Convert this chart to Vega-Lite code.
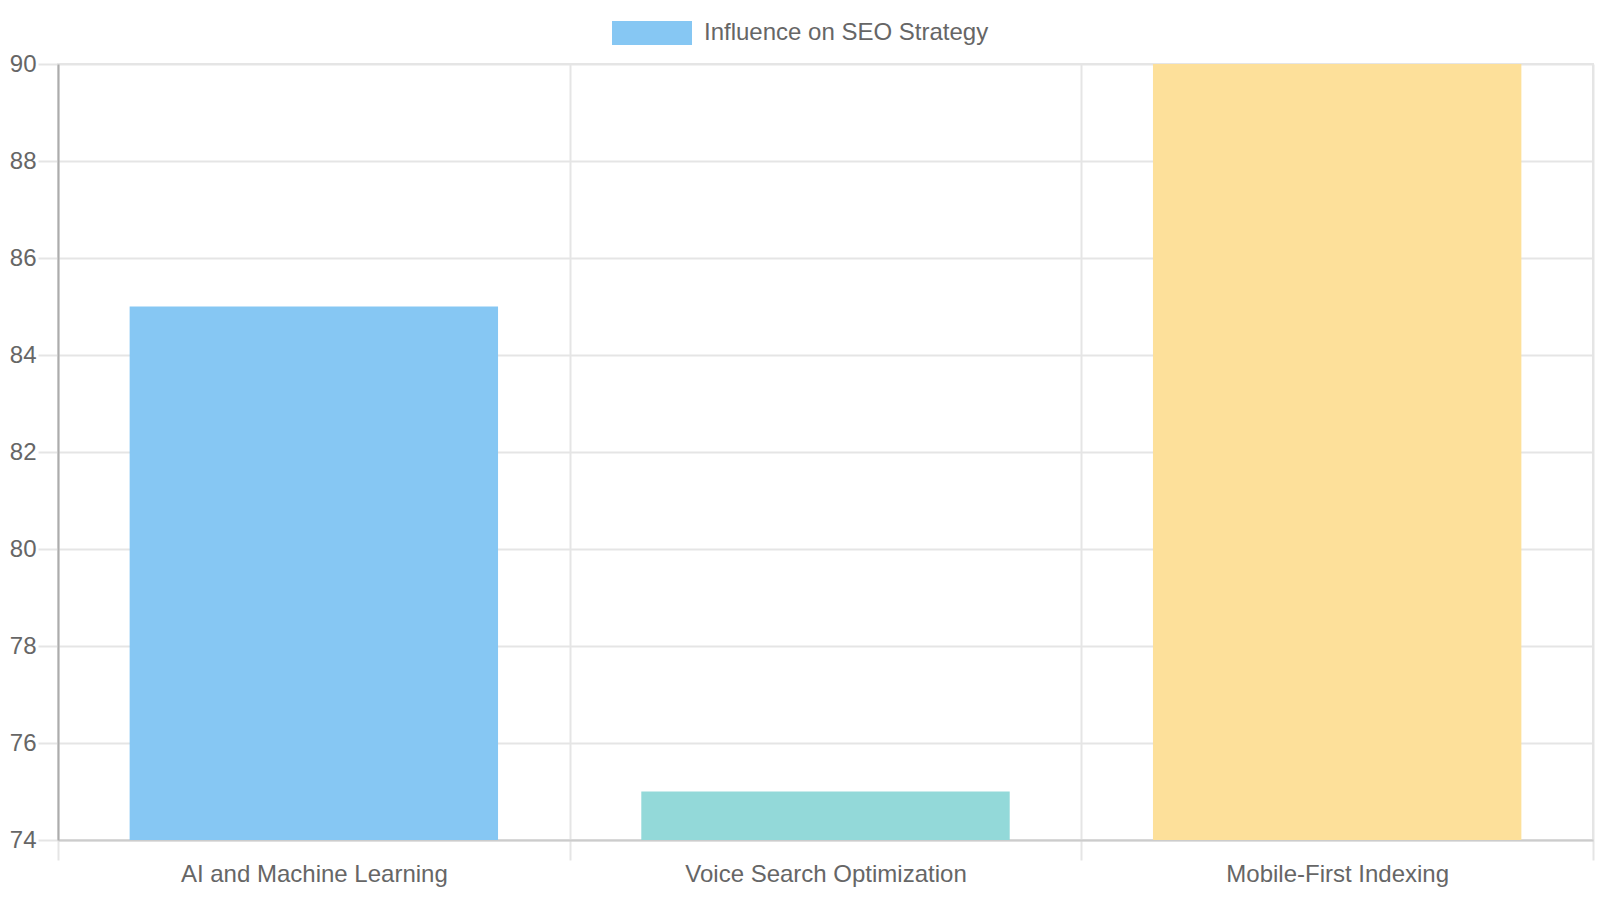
{
  "$schema": "https://vega.github.io/schema/vega-lite/v6.json",
  "width": 1535,
  "height": 776,
  "autosize": {"type": "none"},
  "padding": {"left": 58, "top": 64, "right": 7, "bottom": 60},
  "background": "white",
  "data": {
    "values": [
      {"Category": "AI and Machine Learning", "Influence": 85, "Series": "Influence on SEO Strategy"},
      {"Category": "Voice Search Optimization", "Influence": 75, "Series": "Influence on SEO Strategy"},
      {"Category": "Mobile-First Indexing", "Influence": 90, "Series": "Influence on SEO Strategy"}
    ]
  },
  "config": {
    "view": {"stroke": "#e5e5e5", "strokeWidth": 2},
    "font": "Liberation Sans"
  },
  "layer": [
    {
      "mark": {"type": "bar", "width": {"band": 0.72}, "clip": true},
      "encoding": {
        "x": {
          "field": "Category", "type": "nominal", "sort": null,
          "scale": {"paddingInner": 0, "paddingOuter": 0},
          "axis": {
            "title": null, "labelAngle": 0, "tickBand": "extent", "labelLimit": 0,
            "labelFont": "Liberation Sans", "labelFontSize": 24, "labelColor": "#666666", "labelPadding": 2,
            "domainColor": "#cccccc", "domainWidth": 2,
            "tickColor": "#e5e5e5", "tickWidth": 2, "tickSize": 20,
            "grid": true, "gridColor": "#e5e5e5", "gridWidth": 2
          }
        },
        "y": {
          "field": "Influence", "type": "quantitative",
          "scale": {"domain": [74, 90], "nice": false, "zero": false},
          "axis": {
            "title": null, "values": [74, 76, 78, 80, 82, 84, 86, 88, 90],
            "labelFont": "Liberation Sans", "labelFontSize": 24, "labelColor": "#666666", "labelPadding": 2,
            "domainColor": "#acacac", "domainWidth": 2,
            "tickColor": "#e5e5e5", "tickWidth": 2, "tickSize": 20,
            "grid": true, "gridColor": "#e5e5e5", "gridWidth": 2
          }
        },
        "y2": {"datum": 74},
        "color": {
          "field": "Category", "type": "nominal", "legend": null,
          "scale": {
            "domain": ["AI and Machine Learning", "Voice Search Optimization", "Mobile-First Indexing"],
            "range": ["#86c7f3", "#93d9d9", "#fde09a"]
          }
        }
      }
    },
    {
      "mark": {"type": "bar", "width": {"band": 0.72}},
      "encoding": {
        "x": {"field": "Category", "type": "nominal", "sort": null},
        "y": {"datum": 74},
        "y2": {"datum": 74},
        "color": {
          "field": "Series", "type": "nominal",
          "scale": {"range": ["#86c7f3"]},
          "legend": {
            "title": null, "orient": "none", "legendX": 554, "legendY": -71,
            "symbolType": "M-1,-0.3H1V0.3H-1Z", "symbolSize": 6400, "symbolStrokeWidth": 0, "symbolOpacity": 1,
            "labelFont": "Liberation Sans", "labelFontSize": 24, "labelColor": "#666666", "labelOffset": 12, "labelLimit": 0
          }
        }
      }
    }
  ],
  "resolve": {"scale": {"color": "independent"}}
}
